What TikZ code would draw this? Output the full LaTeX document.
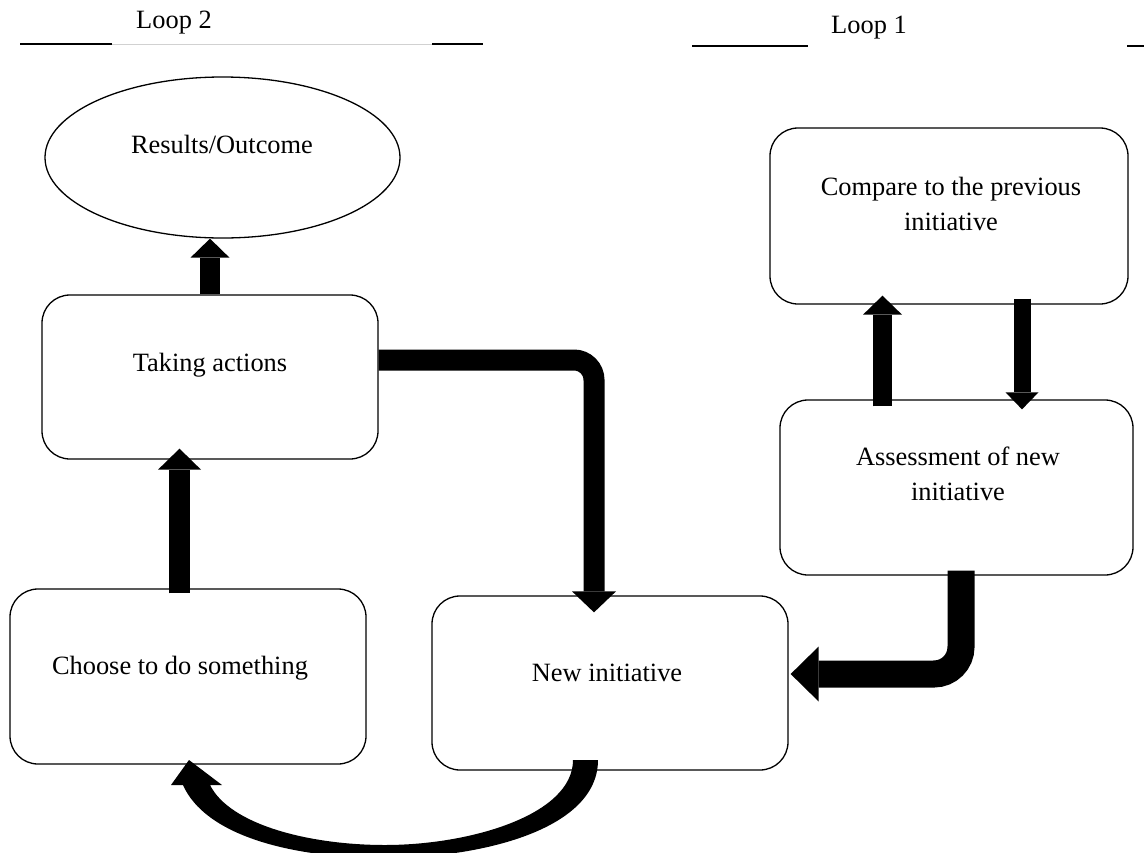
\documentclass[tikz,border=0pt]{standalone}
\usepackage{fontspec}
\setmainfont{Liberation Serif}
\usetikzlibrary{arrows.meta,shapes.geometric}
\begin{document}
\begin{tikzpicture}[x=1pt,y=-1pt,
  box/.style={draw=black,line width=1.3pt,rounded corners=28pt,inner sep=0pt},
  oval/.style={draw=black,line width=1.3pt,ellipse,inner sep=0pt},
  txt/.style={anchor=base,inner sep=0pt,font=\fontsize{26.4}{32}\selectfont},
  rule/.style={line width=1.3pt,draw=black},
  blockarrow/.style={draw=black,line width=#1},
  tipA/.style={-{Triangle[width=39pt,length=19pt,line width=0pt]}},
  tipB/.style={-{Triangle[width=43pt,length=21pt,line width=0pt]}},
  tipC/.style={-{Triangle[width=33pt,length=17pt,line width=0pt]}},
  tipD/.style={-{Triangle[width=44pt,length=21pt,line width=0pt]}},
  tipE/.style={-{Triangle[width=55pt,length=28pt,line width=0pt]}}
]
\useasboundingbox (0,0) rectangle (1144,852);
\clip (0,0) rectangle (1144,852);

% headers
\node[txt] (loop2) at (174,28) {Loop 2};
\node[txt] (loop1) at (869,33) {Loop 1};
\draw[rule] (20,44) -- (112,44);
\draw[line width=1pt,draw=black!18] (112,44) -- (432,44);
\draw[rule] (432,44) -- (483,44);
\draw[rule] (692,46) -- (808,46);
\draw[rule] (1127,46) -- (1144,46);

% shapes
\node[oval,minimum width=355pt,minimum height=161pt] (res) at (222.5,157.5) {};
\node[box,minimum width=336pt,minimum height=164pt] (take) at (210,377) {};
\node[box,minimum width=356pt,minimum height=175pt] (choose) at (188,676.5) {};
\node[box,minimum width=356pt,minimum height=174pt] (new) at (610,683) {};
\node[box,minimum width=358pt,minimum height=176pt] (compare) at (949,216) {};
\node[box,minimum width=353pt,minimum height=175pt] (assess) at (956.5,487.5) {};

% texts
\node[txt] (resT) at (222,153) {Results/Outcome};
\node[txt] (takeT) at (210,371) {Taking actions};
\node[txt] (chooseT) at (180,674) {Choose to do something};
\node[txt] (newT) at (607,681) {New initiative};
\node[txt] (compareT1) at (951,195) {Compare to the previous};
\node[txt] (compareT2) at (951,230) {initiative};
\node[txt] (assessT1) at (958,465) {Assessment of new};
\node[txt] (assessT2) at (958,500) {initiative};

% straight block arrows
\draw[blockarrow=20pt,tipA] (take.north) -- (res.south -| take.north);
\draw[blockarrow=21pt,tipB] ([xshift=-8.5pt,yshift=-5pt]choose.north) -- ([xshift=-30.5pt,yshift=11pt]take.south);
\draw[blockarrow=19pt,tipA] ([xshift=-74pt,yshift=-7pt]assess.north) -- ([xshift=-66.5pt,yshift=9pt]compare.south);
\draw[blockarrow=17pt,tipC] ([xshift=73pt,yshift=6pt]compare.south) -- ([xshift=65.5pt,yshift=-10pt]assess.north);

% elbow block arrows
\draw[blockarrow=21pt,rounded corners=20pt,tipD] ([yshift=17pt]take.east) -| ([xshift=-16pt,yshift=-17pt]new.north);
\draw[blockarrow=27pt,rounded corners=27pt,tipE] ([xshift=4.5pt,yshift=5pt]assess.south) |- ([xshift=2pt,yshift=9pt]new.east);

% curved tapered arrow from new initiative back to choose
\fill[black] (598,760) .. controls (598,830) and (480,858) .. (385,858)
  .. controls (290,858) and (205,835) .. (183,785)
  -- (171,785) -- (189,760) -- (222,785) -- (210,785)
  .. controls (230,825) and (310,845) .. (385,845)
  .. controls (470,845) and (573,815) .. (573,760) -- cycle;
\end{tikzpicture}
\end{document}
